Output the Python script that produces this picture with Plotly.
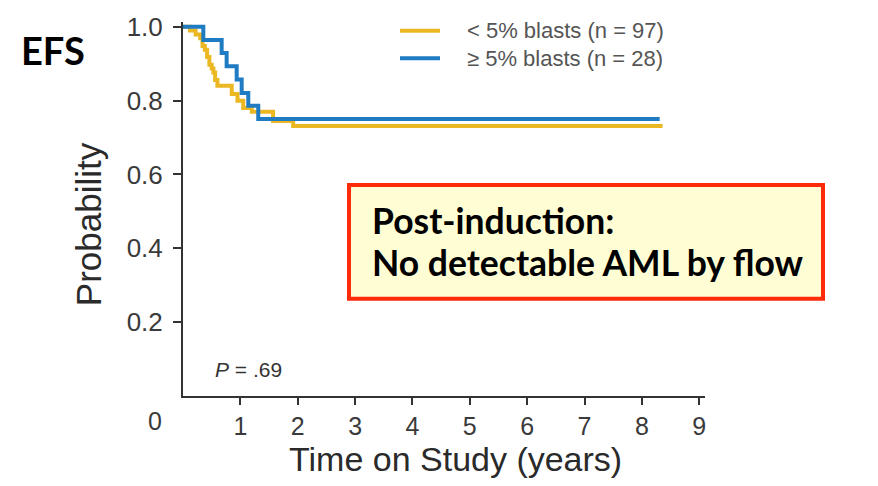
import plotly.graph_objects as go

# Kaplan-Meier style step data (time in years, probability)
low_blast_time = [0, 0.12, 0.22, 0.30, 0.34, 0.38, 0.42, 0.46, 0.50, 0.53, 0.56, 0.60, 0.85, 0.95, 1.05, 1.20, 1.57, 1.92, 8.36]
low_blast_prob = [1.0, 0.99, 0.979, 0.969, 0.948, 0.938, 0.918, 0.897, 0.887, 0.876, 0.856, 0.840, 0.818, 0.800, 0.780, 0.770, 0.745, 0.731, 0.731]
high_blast_time = [0, 0.354, 0.674, 0.761, 0.936, 1.023, 1.138, 1.312, 8.31]
high_blast_prob = [1.0, 0.964, 0.929, 0.893, 0.857, 0.821, 0.786, 0.75, 0.75]

series_names = ["< 5% blasts (n = 97)", "\u2265 5% blasts (n = 28)"]
series_colors = ["#EBB824", "#1F7BC2"]

x_ticks = [1, 2, 3, 4, 5, 6, 7, 8, 9]
y_ticks = [0.2, 0.4, 0.6, 0.8, 1.0]
y_tick_labels = ["0.2", "0.4", "0.6", "0.8", "1.0"]

FONT = "Liberation Sans, Arial, sans-serif"
BOLD = "Lato, Open Sans, sans-serif"

fig = go.Figure()
fig.add_trace(go.Scatter(x=low_blast_time, y=low_blast_prob, mode="lines", line_shape="hv",
                         line=dict(color=series_colors[0], width=4), name=series_names[0],
                         showlegend=False))
fig.add_trace(go.Scatter(x=high_blast_time, y=high_blast_prob, mode="lines", line_shape="hv",
                         line=dict(color=series_colors[1], width=4), name=series_names[1],
                         showlegend=False))

fig.update_layout(
    width=878, height=486,
    margin=dict(l=183, r=173, t=15, b=90),
    paper_bgcolor="white", plot_bgcolor="white",
    font=dict(family=FONT, color="#333333"),
    xaxis=dict(range=[0, 9.1], tickvals=x_ticks, showline=True, linewidth=2, linecolor="#333333",
               ticks="outside", ticklen=7, tickwidth=2, tickcolor="#333333", showgrid=False,
               zeroline=False, tickfont=dict(size=25, color="#3a3a3a", family=FONT)),
    yaxis=dict(range=[0, 1.013], tickvals=y_ticks, ticktext=y_tick_labels, showline=True, linewidth=2,
               linecolor="#333333", ticks="outside", ticklen=8, tickwidth=2, tickcolor="#333333",
               showgrid=False, zeroline=False, ticklabelstandoff=5,
               tickfont=dict(size=26, color="#3a3a3a", family=FONT)),
)

def px_x(p):
    return (p - 183) / 522.0

def px_y(p):
    return (396 - p) / 381.0

annotations = [
    dict(text="Probability", x=px_x(88), y=px_y(221), textangle=-90, font=dict(size=35, color="#2a2a2a")),
    dict(text="Time on Study (years)", x=px_x(455), y=px_y(460), font=dict(size=34, color="#2a2a2a")),
    dict(text="0", x=px_x(155), y=px_y(421), font=dict(size=25, color="#3a3a3a")),
    dict(text="<b>EFS</b>", x=px_x(53), y=px_y(44), font=dict(size=38, color="black", family=BOLD)),
    dict(text="<i>P</i> = .69", x=px_x(213), y=px_y(369), xanchor="left", font=dict(size=21, color="#333333")),
    dict(text=series_names[0], x=px_x(465), y=px_y(24), xanchor="left", font=dict(size=22, color="#555555")),
    dict(text=series_names[1], x=px_x(465), y=px_y(52), xanchor="left", font=dict(size=22, color="#555555")),
    dict(text="<b>Post-induction:</b>", x=px_x(370), y=px_y(217), xanchor="left",
         font=dict(size=35.5, color="black", family=BOLD)),
    dict(text="<b>No detectable AML by flow</b>", x=px_x(370), y=px_y(260), xanchor="left",
         font=dict(size=35.5, color="black", family=BOLD)),
]
for a in annotations:
    a.setdefault("xanchor", "center")
    fig.add_annotation(xref="paper", yref="paper", showarrow=False, yanchor="middle", **a)

shapes = [
    dict(type="rect", x0=px_x(349), x1=px_x(823), y0=px_y(297), y1=px_y(181),
         fillcolor="#FFFDD3", line=dict(color="#FF2A0A", width=4)),
    dict(type="line", x0=px_x(400), x1=px_x(440), y0=px_y(24), y1=px_y(24),
         line=dict(color=series_colors[0], width=4)),
    dict(type="line", x0=px_x(400), x1=px_x(440), y0=px_y(52), y1=px_y(52),
         line=dict(color=series_colors[1], width=4)),
]
for s in shapes:
    fig.add_shape(xref="paper", yref="paper", layer="above", **s)

fig.write_html("out.html")
